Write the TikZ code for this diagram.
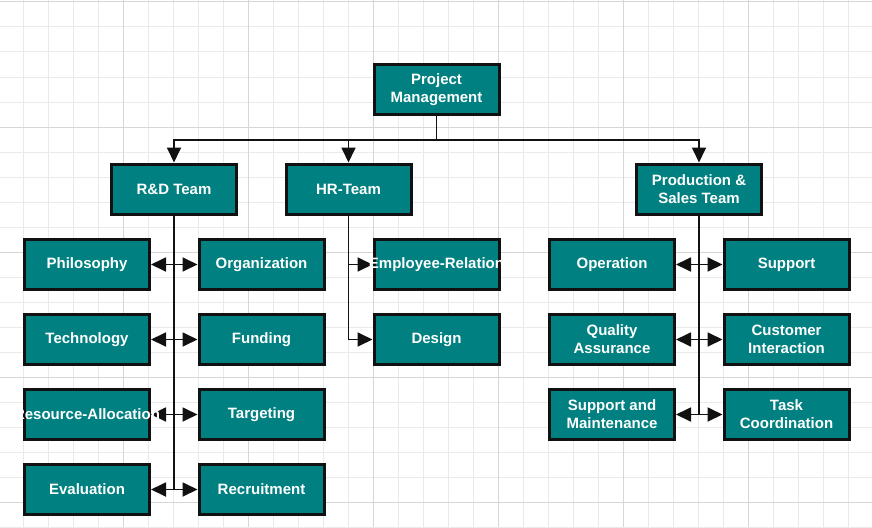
\documentclass[tikz,border=0pt]{standalone}
\usepackage{fontspec}
\setmainfont{Liberation Sans}
\usetikzlibrary{arrows.meta}
\definecolor{boxfill}{RGB}{0,128,128}
\definecolor{gridminor}{RGB}{234,234,234}
\definecolor{gridmajor}{RGB}{214,214,214}
\definecolor{edgecol}{RGB}{17,17,17}
\pgfdeclarelayer{gridlayer}
\pgfdeclarelayer{edgelayer}
\pgfsetlayers{gridlayer,edgelayer,main}
\begin{document}
\begin{tikzpicture}[x=1pt,y=-1pt,
  box/.style={draw=edgecol, fill=boxfill, line width=3pt, minimum width=125pt,
    minimum height=50pt, inner sep=0pt, text=white,
    font=\bfseries\fontsize{15}{18}\selectfont, align=center},
  conn/.style={draw=edgecol, line width=1.8pt, -{Triangle[length=15pt,width=14pt]}},
  gminor/.style={draw=gridminor, line width=1pt},
  gmajor/.style={draw=gridmajor, line width=1pt}]
\useasboundingbox (0,0) rectangle (872,527);
\begin{pgfonlayer}{gridlayer}
  \fill[white] (0,0) rectangle (872,527);
  \foreach \x in {23,48,...,873} \draw[gminor] (\x,0) -- (\x,527);
  \foreach \y in {2,27,...,527} \draw[gminor] (0,\y) -- (872,\y);
  \foreach \x in {123,248,...,873} \draw[gmajor] (\x,0) -- (\x,527);
  \foreach \y in {2,127,...,527} \draw[gmajor] (0,\y) -- (872,\y);
\end{pgfonlayer}

\node[box] (pm) at (436.5,89.5) {Project\\Management};
\node[box] (rd) at (174,189) {R\&D Team};
\node[box] (hr) at (348.5,189) {HR-Team};
\node[box] (ps) at (699,189) {Production \&\\Sales Team};

\node[box] (phil) at (87,264.5) {Philosophy};
\node[box] (org) at (261.5,264.5) {Organization};
\node[box] (tech) at (87,339.5) {Technology};
\node[box] (fund) at (261.5,339.5) {Funding};
\node[box] (res) at (87,414.5) {\makebox[0pt][c]{Resource-Allocation}};
\node[box] (targ) at (261.5,414.5) {Targeting};
\node[box] (eval) at (87,489.5) {Evaluation};
\node[box] (recr) at (261.5,489.5) {Recruitment};

\node[box] (emp) at (436.5,264.5) {\makebox[0pt][c]{Employee-Relation}};
\node[box] (des) at (436.5,339.5) {Design};

\node[box] (oper) at (612,264.5) {Operation};
\node[box] (supp) at (786.5,264.5) {Support};
\node[box] (qa) at (612,339.5) {Quality\\Assurance};
\node[box] (cust) at (786.5,339.5) {Customer\\Interaction};
\node[box] (sam) at (612,414.5) {Support and\\Maintenance};
\node[box] (task) at (786.5,414.5) {Task\\Coordination};

\coordinate (bus) at (436.5,140);

\begin{pgfonlayer}{edgelayer}
  \draw[conn] (pm.south) -- (bus) -| (rd.north);
  \draw[conn] (pm.south) -- (bus) -| (hr.north);
  \draw[conn] (pm.south) -- (bus) -| (ps.north);

  \draw[conn] (rd.south) |- (phil.east);
  \draw[conn] (rd.south) |- (org.west);
  \draw[conn] (rd.south) |- (tech.east);
  \draw[conn] (rd.south) |- (fund.west);
  \draw[conn] (rd.south) |- (res.east);
  \draw[conn] (rd.south) |- (targ.west);
  \draw[conn] (rd.south) |- (eval.east);
  \draw[conn] (rd.south) |- (recr.west);

  \draw[conn] (hr.south) |- (emp.west);
  \draw[conn] (hr.south) |- (des.west);

  \draw[conn] (ps.south) |- (oper.east);
  \draw[conn] (ps.south) |- (supp.west);
  \draw[conn] (ps.south) |- (qa.east);
  \draw[conn] (ps.south) |- (cust.west);
  \draw[conn] (ps.south) |- (sam.east);
  \draw[conn] (ps.south) |- (task.west);
\end{pgfonlayer}
\end{tikzpicture}
\end{document}
